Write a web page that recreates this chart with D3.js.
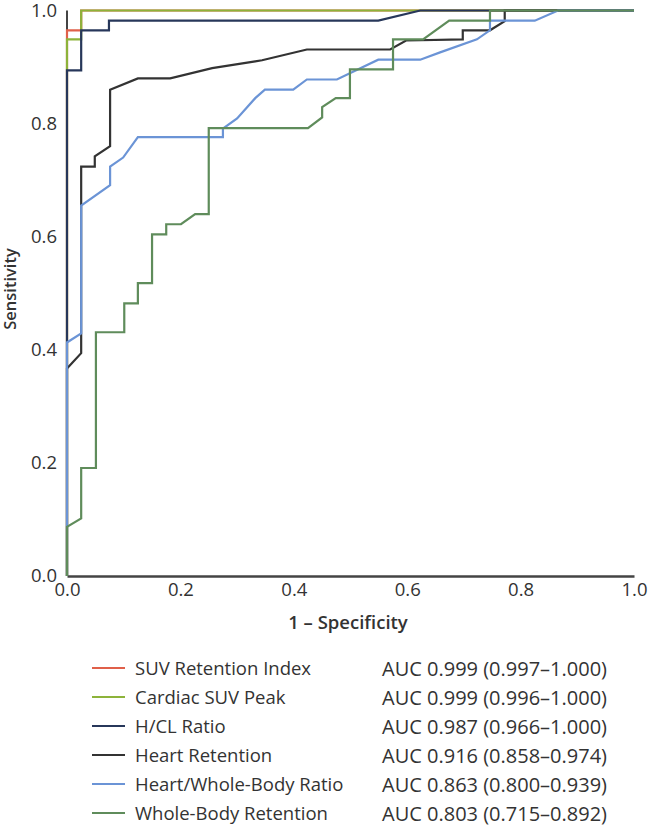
<!DOCTYPE html>
<html><head><meta charset="utf-8">
<script src="https://cdn.jsdelivr.net/npm/d3@7"></script>
<style>body{margin:0;background:#fff}svg{display:block}text{font-family:"Open Sans",sans-serif;fill:#333}</style>
</head><body><svg id="c" width="649" height="825"></svg>
<script>
const seriesNames = ["SUV Retention Index","Cardiac SUV Peak","H/CL Ratio","Heart Retention","Heart/Whole-Body Ratio","Whole-Body Retention"];
const aucLabels = ["AUC 0.999 (0.997–1.000)","AUC 0.999 (0.996–1.000)","AUC 0.987 (0.966–1.000)","AUC 0.916 (0.858–0.974)","AUC 0.863 (0.800–0.939)","AUC 0.803 (0.715–0.892)"];
const colors = ["#e0604a","#8db33a","#27375a","#333333","#6b94d6","#5f8c5b"];
const ticks = [0,0.2,0.4,0.6,0.8,1.0];

const suvX = [0,0,0.025,0.025,1];
const suvY = [0,0.965,0.965,1,1];
const peakX = [0,0,0.025,0.025,1];
const peakY = [0,0.949,0.949,1,1];
const hclX = [0,0,0.025,0.025,0.074,0.074,0.549,0.623,1];
const hclY = [0,0.894,0.894,0.965,0.965,0.982,0.982,1,1];
const hrX = [0,0,0.025,0.025,0.049,0.049,0.076,0.076,0.125,0.182,0.256,0.332,0.344,0.423,0.570,0.598,0.698,0.698,0.746,0.772,0.772,1];
const hrY = [0,0.367,0.394,0.724,0.724,0.742,0.760,0.860,0.880,0.880,0.898,0.910,0.912,0.931,0.931,0.947,0.949,0.965,0.965,0.981,1,1];
const hwbX = [0,0,0.025,0.025,0.076,0.076,0.099,0.125,0.275,0.275,0.300,0.332,0.349,0.399,0.423,0.476,0.549,0.623,0.658,0.723,0.746,0.746,0.825,0.866,1];
const hwbY = [0,0.413,0.429,0.655,0.691,0.724,0.740,0.776,0.776,0.791,0.809,0.845,0.860,0.860,0.878,0.878,0.913,0.913,0.926,0.949,0.965,0.982,0.982,1,1];
const wbX = [0,0,0.025,0.025,0.051,0.051,0.101,0.101,0.125,0.125,0.150,0.150,0.175,0.175,0.201,0.226,0.250,0.250,0.425,0.450,0.450,0.474,0.499,0.499,0.575,0.575,0.628,0.674,0.746,0.746,1];
const wbY = [0,0.087,0.102,0.191,0.191,0.431,0.431,0.482,0.482,0.518,0.518,0.604,0.604,0.622,0.622,0.640,0.640,0.792,0.792,0.811,0.829,0.845,0.845,0.896,0.896,0.949,0.949,0.982,0.982,1,1];

const seriesX = [suvX,peakX,hclX,hrX,hwbX,wbX];
const seriesY = [suvY,peakY,hclY,hrY,hwbY,wbY];

const svg = d3.select("#c");
const x = d3.scaleLinear().domain([0,1]).range([67,634]);
const y = d3.scaleLinear().domain([0,1]).range([576,10.5]);

// y axis line
svg.append("line").attr("x1",x(0)).attr("x2",x(0)).attr("y1",y(0)).attr("y2",y(1)).attr("stroke","#444").attr("stroke-width",2);

// x axis
const xa = svg.append("g").attr("transform",`translate(0,${y(0)})`).call(d3.axisBottom(x).tickValues(ticks).tickFormat(d3.format(".1f")).tickSize(0).tickPadding(7));
xa.select(".domain").attr("stroke","#444").attr("stroke-width",2.5);
xa.selectAll("text").attr("font-size",18.5).attr("fill","#333").style("font-family",'"Open Sans",sans-serif');

const ya = svg.append("g").attr("transform",`translate(${x(0)},0)`).call(d3.axisLeft(y).tickValues(ticks).tickFormat(d3.format(".1f")).tickSize(0).tickPadding(10));
ya.select(".domain").remove();
ya.selectAll("text").attr("font-size",18.5).attr("fill","#333").style("font-family",'"Open Sans",sans-serif');

const line = d3.line().x(d=>x(d[0])).y(d=>y(d[1]));
seriesX.forEach((xs,i)=>{
  const pts = xs.map((v,j)=>[v,seriesY[i][j]]);
  svg.append("path").attr("d",line(pts)).attr("fill","none").attr("stroke",colors[i]).attr("stroke-width",2.2).attr("stroke-linejoin","miter");
});

svg.append("text").attr("x",348).attr("y",629).attr("text-anchor","middle").attr("font-size",18.5).attr("font-weight",600).text("1 – Specificity");
svg.append("text").attr("transform",`translate(16,289) rotate(-90)`).attr("text-anchor","middle").attr("font-size",16.5).attr("font-weight",600).text("Sensitivity");

const lg = svg.append("g");
seriesNames.forEach((n,i)=>{
  const yy = 668 + i*29;
  lg.append("line").attr("x1",92).attr("x2",125).attr("y1",yy).attr("y2",yy).attr("stroke",colors[i]).attr("stroke-width",2);
  lg.append("text").attr("x",135).attr("y",yy+7).attr("font-size",18.5).text(n);
  lg.append("text").attr("x",382).attr("y",yy+8).attr("font-size",20).text(aucLabels[i]);
});
</script></body></html>
